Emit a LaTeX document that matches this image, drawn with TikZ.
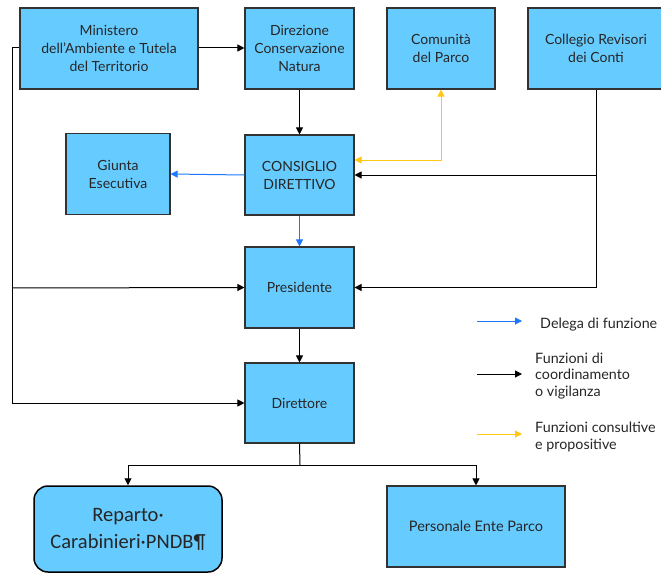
\documentclass[tikz,border=0pt]{standalone}
\usepackage{fontspec}
\setmainfont{Lato}
\newfontfamily\calib{Carlito}
\usetikzlibrary{arrows.meta}
\definecolor{boxfill}{RGB}{102,204,255}
\definecolor{boxline}{RGB}{50,50,50}
\definecolor{delega}{RGB}{30,120,255}
\definecolor{consult}{RGB}{255,200,20}
\tikzset{
  orgbox/.style={draw=boxline, line width=1.1pt, fill=boxfill, align=center, inner sep=0pt, text=black!85, font=\fontsize{14}{18}\selectfont},
  conn/.style={line width=1pt, -{Triangle[length=7pt,width=7pt]}},
  blk/.style={conn, draw=black},
  blu/.style={conn, draw=delega, -{Triangle[length=7pt,width=7pt,fill=delega]}},
  ylw/.style={line width=1pt, draw=consult, {Triangle[length=7pt,width=7pt,fill=consult]}-{Triangle[length=7pt,width=7pt,fill=consult]}},
  legtext/.style={anchor=west, align=left, inner sep=0pt, text=black!85, font=\fontsize{14.3}{16.8}\selectfont}
}
\begin{document}
\begin{tikzpicture}[x=1pt,y=-1pt]
\useasboundingbox (0,0) rectangle (661,575);
\fill[white] (0,0) rectangle (661,575);
% boxes
\node[orgbox, minimum width=178pt, minimum height=81pt] (min) at (109,48.5) {Ministero\\dell'Ambiente e Tutela\\del Territorio};
\node[orgbox, minimum width=109pt, minimum height=81pt] (dir) at (299.5,48.5) {Direzione\\Conservazione\\Natura};
\node[orgbox, minimum width=108pt, minimum height=81pt] (com) at (441,48.5) {Comunità\\del Parco};
\node[orgbox, minimum width=136pt, minimum height=81pt] (col) at (596,48.5) {Collegio Revisori\\dei Conti};
\node[orgbox, minimum width=104pt, minimum height=81pt] (giu) at (118,174) {Giunta\\Esecutiva};
\node[orgbox, minimum width=109pt, minimum height=80pt] (cons) at (299.5,175) {CONSIGLIO\\DIRETTIVO};
\node[orgbox, minimum width=109pt, minimum height=81pt] (pres) at (299.5,287.5) {Presidente};
\node[orgbox, minimum width=109pt, minimum height=80pt] (dire) at (299.5,403) {Direttore};
\node[orgbox, rounded corners=14pt, line width=1.5pt, draw=black, minimum width=188pt, minimum height=86pt, font=\calib\fontsize{20.5}{27}\selectfont] (rep) at (128,529) {Reparto·\\Carabinieri·PNDB¶};
\node[orgbox, minimum width=178pt, minimum height=81pt, font=\fontsize{14.5}{18}\selectfont] (pers) at (476,526.5) {Personale Ente Parco};
% coordinates
\coordinate (mL) at (12,48);
\coordinate (bus) at (12,288);
\coordinate (busd) at (12,403);
\coordinate (cR) at (596,175);
\coordinate (cP) at (596,287.5);
\coordinate (split) at (300,465);
% connectors
\draw[blk] (min.east |- 0,48) -- (dir.west |- 0,48);
\draw[blk] (dir.south) -- (cons.north);
\draw[line width=1pt] (min.west |- 0,48) -- (mL) -- (busd);
\draw[blk] (bus) -- (pres.west);
\draw[blk] (busd) -- (dire.west);
\draw[blu] (cons.west) -- (giu.east);
\draw[blu] (cons.south) -- (pres.north);
\draw[ylw] (cons.east |- 0,160) -| (com.south);
\draw[line width=1pt] (col.south) -- (cP);
\draw[blk] (cR) -- (cons.east);
\draw[blk] (cP) -- (pres.east);
\draw[blk] (pres.south) -- (dire.north);
\draw[line width=1pt] (dire.south) -- (split);
\draw[blk] (split) -| (rep.north);
\draw[blk] (split) -| (pers.north);
% legend
\coordinate (l1a) at (477,321); \coordinate (l1b) at (522,321);
\coordinate (l2a) at (477,374); \coordinate (l2b) at (522,374);
\coordinate (l3a) at (477,434); \coordinate (l3b) at (522,434);
\draw[blu] (l1a) -- (l1b);
\draw[blk] (l2a) -- (l2b);
\draw[line width=1pt, draw=consult, -{Triangle[length=7pt,width=7pt,fill=consult]}] (l3a) -- (l3b);
\node[legtext] (t1) at (540,325) {Delega di funzione};
\node[legtext] (t2) at (535,376) {Funzioni di\\coordinamento\\o vigilanza};
\node[legtext] (t3) at (535,437) {Funzioni consultive\\e propositive};
\end{tikzpicture}
\end{document}
